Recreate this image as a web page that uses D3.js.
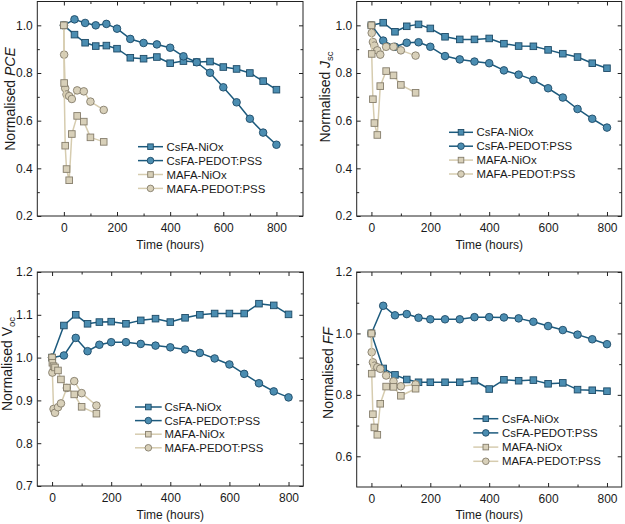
<!DOCTYPE html>
<html>
<head>
<meta charset="utf-8">
<script src="https://cdn.jsdelivr.net/npm/d3@7"></script>
<style>
  body { margin: 0; background: #fff; }
  svg { display: block; }
  text { font-family: "Liberation Sans", Arial, sans-serif; fill: #1a1a1a; }
</style>
</head>
<body>
<svg id="chart" width="625" height="524"></svg>
<script>
// ---------------- DATA ----------------
const seriesNames = ["CsFA-NiOx", "CsFA-PEDOT:PSS", "MAFA-NiOx", "MAFA-PEDOT:PSS"];
const timesCsFA = [0, 40, 80, 120, 160, 200, 250, 300, 350, 400, 450, 500, 550, 600, 650, 700, 750, 800];
const timesMAFA = [0, 1, 5, 10, 20, 30, 50, 75, 100, 150];

const pceCsNiOx  = [1.0, 0.961, 0.927, 0.913, 0.915, 0.902, 0.864, 0.860, 0.867, 0.841, 0.850, 0.846, 0.848, 0.825, 0.817, 0.800, 0.766, 0.730];
const pceCsPedot = [1.0, 1.025, 1.010, 1.000, 1.006, 0.986, 0.943, 0.926, 0.920, 0.906, 0.870, 0.845, 0.801, 0.740, 0.677, 0.608, 0.550, 0.499];
const pceMaNiOx  = [1.0, 0.758, 0.495, 0.397, 0.350, 0.544, 0.620, 0.596, 0.530, 0.511];
const pceMaPedot = [1.0, 0.877, 0.736, 0.710, 0.703, 0.691, 0.727, 0.723, 0.680, 0.645];

const jscCsNiOx  = [1.0, 1.011, 0.973, 0.996, 1.004, 0.987, 0.952, 0.941, 0.941, 0.945, 0.923, 0.913, 0.912, 0.897, 0.881, 0.867, 0.841, 0.820];
const jscCsPedot = [1.0, 0.936, 0.910, 0.927, 0.929, 0.910, 0.871, 0.857, 0.848, 0.841, 0.811, 0.793, 0.771, 0.736, 0.697, 0.649, 0.608, 0.571];
const jscMaNiOx  = [1.0, 0.880, 0.690, 0.590, 0.540, 0.745, 0.808, 0.790, 0.750, 0.717];
const jscMaPedot = [1.0, 0.968, 0.930, 0.915, 0.895, 0.877, 0.910, 0.910, 0.895, 0.873];

const vocCsNiOx  = [1.0, 1.075, 1.100, 1.079, 1.083, 1.084, 1.079, 1.087, 1.091, 1.083, 1.093, 1.100, 1.103, 1.103, 1.103, 1.126, 1.122, 1.101];
const vocCsPedot = [1.0, 1.005, 1.046, 1.015, 1.030, 1.036, 1.036, 1.032, 1.028, 1.024, 1.019, 1.011, 0.998, 0.984, 0.962, 0.940, 0.921, 0.907];
const vocMaNiOx  = [1.0, 0.988, 0.980, 0.977, 0.970, 0.949, 0.930, 0.914, 0.885, 0.869];
const vocMaPedot = [1.0, 0.965, 0.880, 0.871, 0.884, 0.893, 0.929, 0.945, 0.917, 0.888];

const ffCsNiOx  = [1.0, 0.886, 0.865, 0.850, 0.841, 0.841, 0.841, 0.841, 0.846, 0.819, 0.849, 0.846, 0.848, 0.836, 0.839, 0.817, 0.815, 0.812];
const ffCsPedot = [1.0, 1.090, 1.059, 1.063, 1.051, 1.046, 1.046, 1.046, 1.053, 1.053, 1.052, 1.049, 1.038, 1.024, 1.011, 0.996, 0.981, 0.965];
const ffMaNiOx  = [1.0, 0.869, 0.737, 0.694, 0.670, 0.771, 0.827, 0.826, 0.797, 0.820];
const ffMaPedot = [1.0, 0.939, 0.906, 0.895, 0.890, 0.885, 0.863, 0.844, 0.828, 0.834];

const xTicks = [0, 200, 400, 600, 800];
const xMinorTicks = [-100, 100, 300, 500, 700, 900];
const yTicksPCE = [0.2, 0.4, 0.6, 0.8, 1.0];
const yMinorPCE = [0.3, 0.5, 0.7, 0.9, 1.1];
const yTicksVoc = [0.7, 0.8, 0.9, 1.0, 1.1, 1.2];
const yMinorVoc = [0.75, 0.85, 0.95, 1.05, 1.15];
const yTicksFF = [0.6, 0.8, 1.0, 1.2];
const yMinorFF = [0.5, 0.7, 0.9, 1.1];

// ---------------- STYLE / LAYOUT ----------------
const styles = [
  { shape: "square", line: "#1c5a7d", fill: "#4b8db1", stroke: "#1d4a66" },
  { shape: "circle", line: "#1c5a7d", fill: "#4b8db1", stroke: "#1d4a66" },
  { shape: "square", line: "#d6ccaf", fill: "#d8d0b9", stroke: "#857d6b" },
  { shape: "circle", line: "#d6ccaf", fill: "#d8d0b9", stroke: "#857d6b" }
];
const drawOrder = [0, 1, 3, 2];

const panels = [
  { frame: { l: 37.3, r: 303, t: 1.5, b: 216 }, xDom: [-100, 900], yDom: [0.2, 1.1],
    yTicks: yTicksPCE, yMinor: yMinorPCE,
    data: [pceCsNiOx, pceCsPedot, pceMaNiOx, pceMaPedot],
    title: [{ t: "Normalised " }, { t: "PCE", it: true }],
    titleX: 14.5, titleY: 99, xTitleY: 249,
    legend: { x0: 138, x1: 163, tx: 166.5, y0: 146.7, dy: 13.9 } },
  { frame: { l: 356.7, r: 621.7, t: 1.5, b: 216 }, xDom: [-50, 850], yDom: [0.2, 1.1],
    yTicks: yTicksPCE, yMinor: yMinorPCE,
    data: [jscCsNiOx, jscCsPedot, jscMaNiOx, jscMaPedot],
    title: [{ t: "Normalised " }, { t: "J", it: true }, { t: "sc", sub: true }],
    titleX: 330, titleY: 97, xTitleY: 249,
    legend: { x0: 449, x1: 473, tx: 476.5, y0: 132.3, dy: 13.9 } },
  { frame: { l: 37.3, r: 303.3, t: 272, b: 486 }, xDom: [-50, 850], yDom: [0.7, 1.2],
    yTicks: yTicksVoc, yMinor: yMinorVoc,
    data: [vocCsNiOx, vocCsPedot, vocMaNiOx, vocMaPedot],
    title: [{ t: "Normalised V" }, { t: "oc", sub: true }],
    titleX: 12, titleY: 364, xTitleY: 519,
    legend: { x0: 135, x1: 161.7, tx: 164.5, y0: 407, dy: 13.6 } },
  { frame: { l: 356.7, r: 621.7, t: 272, b: 487 }, xDom: [-50, 850], yDom: [0.5, 1.2],
    yTicks: yTicksFF, yMinor: yMinorFF,
    data: [ffCsNiOx, ffCsPedot, ffMaNiOx, ffMaPedot],
    title: [{ t: "Normalised " }, { t: "FF", it: true }],
    titleX: 333, titleY: 373, xTitleY: 519,
    legend: { x0: 473.3, x1: 498.3, tx: 502, y0: 418.7, dy: 14.2 } }
];

const svg = d3.select("#chart");
const FS = 12;
const LFS = 11.4;

function marker(g, shape, cx, cy, size, st) {
  if (shape === "square") {
    g.append("rect").attr("x", cx - size / 2).attr("y", cy - size / 2)
      .attr("width", size).attr("height", size)
      .attr("fill", st.fill).attr("stroke", st.stroke).attr("stroke-width", 0.9);
  } else {
    g.append("circle").attr("cx", cx).attr("cy", cy).attr("r", size / 2 + 0.5)
      .attr("fill", st.fill).attr("stroke", st.stroke).attr("stroke-width", 0.9);
  }
}

panels.forEach(p => {
  const f = p.frame;
  const x = d3.scaleLinear().domain(p.xDom).range([f.l, f.r]);
  const y = d3.scaleLinear().domain(p.yDom).range([f.b, f.t]);
  const g = svg.append("g");

  const ax = (gen, tx, ty, vals, size, labels, pad) => {
    const a = gen.tickValues(vals).tickSize(-size).tickPadding(pad || 3);
    if (!labels) a.tickFormat("");
    else a.tickFormat(d3.format(".1f"));
    const sel = g.append("g").attr("transform", `translate(${tx},${ty})`).call(a);
    sel.select(".domain").remove();
    sel.selectAll("line").attr("stroke", "#222").attr("stroke-width", 1);
    sel.selectAll("text").attr("font-size", FS).attr("fill", "#1a1a1a")
      .attr("font-family", '"Liberation Sans", Arial, sans-serif');
    return sel;
  };
  const inX = v => v > p.xDom[0] && v < p.xDom[1];
  const inY = v => v > p.yDom[0] && v < p.yDom[1];
  ax(d3.axisBottom(x), 0, f.b, xTicks, 4, true, 7.5).selectAll("text").text(d => d3.format("d")(d));
  ax(d3.axisBottom(x), 0, f.b, xMinorTicks.filter(inX), 2.5, false);
  ax(d3.axisTop(x), 0, f.t, xTicks, 4, false);
  ax(d3.axisTop(x), 0, f.t, xMinorTicks.filter(inX), 2.5, false);
  ax(d3.axisLeft(y), f.l, 0, p.yTicks, 4, true, 4.5);
  ax(d3.axisLeft(y), f.l, 0, p.yMinor.filter(inY), 2.5, false);
  ax(d3.axisRight(y), f.r, 0, p.yTicks, 4, false);
  ax(d3.axisRight(y), f.r, 0, p.yMinor.filter(inY), 2.5, false);

  g.append("rect").attr("x", f.l).attr("y", f.t).attr("width", f.r - f.l).attr("height", f.b - f.t)
    .attr("fill", "none").attr("stroke", "#222").attr("stroke-width", 1);

  drawOrder.forEach(i => {
    const vals = p.data[i];
    const times = i < 2 ? timesCsFA : timesMAFA;
    const st = styles[i];
    const pts = vals.map((v, k) => [times[k], v]);
    const line = d3.line().x(d => x(d[0])).y(d => y(d[1]));
    g.append("path").attr("d", line(pts)).attr("fill", "none")
      .attr("stroke", st.line).attr("stroke-width", 1.5).attr("stroke-linejoin", "round");
    const mg = g.append("g");
    pts.forEach(d => marker(mg, st.shape, x(d[0]), y(d[1]), 6.6, st));
  });

  const L = p.legend;
  seriesNames.forEach((name, i) => {
    const st = styles[i];
    const yy = L.y0 + i * L.dy;
    g.append("line").attr("x1", L.x0).attr("x2", L.x1).attr("y1", yy).attr("y2", yy)
      .attr("stroke", st.line).attr("stroke-width", 1.5);
    marker(g, st.shape, (L.x0 + L.x1) / 2, yy, 5.6, st);
    g.append("text").attr("x", L.tx).attr("y", yy + 4.1).attr("font-size", LFS).text(name);
  });

  g.append("text").attr("x", (f.l + f.r) / 2).attr("y", p.xTitleY).attr("text-anchor", "middle")
    .attr("font-size", FS).text("Time (hours)");

  const yt = g.append("text").attr("transform", `translate(${p.titleX},${p.titleY}) rotate(-90)`)
    .attr("text-anchor", "middle").attr("font-size", 14);
  p.title.forEach(part => {
    const ts = yt.append("tspan").text(part.t);
    if (part.it) ts.attr("font-style", "italic");
    if (part.sub) ts.attr("font-size", 9.5).attr("dy", 3);
  });
});
</script>
</body>
</html>
